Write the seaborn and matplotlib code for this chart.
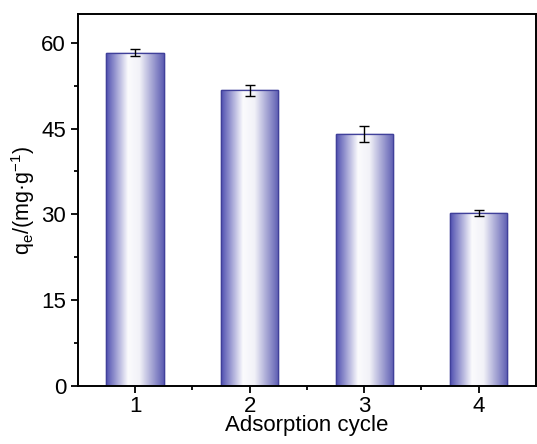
import numpy as np
import pandas as pd
import matplotlib
matplotlib.use("Agg")
import matplotlib.pyplot as plt
import seaborn as sns
from matplotlib.colors import LinearSegmentedColormap
from matplotlib.ticker import MultipleLocator

# --- data ---
cycles = ["1", "2", "3", "4"]
qe_values = [58.3, 51.7, 44.0, 30.2]
qe_errors = [0.6, 1.0, 1.4, 0.5]

sns.set_style("ticks")
plt.rcParams['font.family'] = ['Liberation Sans', 'DejaVu Sans']
plt.rcParams['mathtext.fontset'] = 'custom'
plt.rcParams['mathtext.rm'] = 'Liberation Sans'
plt.rcParams['text.color'] = 'black'
plt.rcParams['axes.labelcolor'] = 'black'
plt.rcParams['xtick.color'] = 'black'
plt.rcParams['ytick.color'] = 'black'

df = pd.DataFrame({"cycle": cycles, "qe": qe_values})

fig = plt.figure(figsize=(5.37, 4.44), dpi=100)
ax = fig.add_axes([0.145, 0.131, 0.853, 0.837])

sns.barplot(data=df, x="cycle", y="qe", width=0.5, color="white",
            edgecolor="#3a3a9a", linewidth=1.0, ax=ax, errorbar=None)

# horizontal gradient fill: dark at the edges, white just left of centre
grad_cmap = LinearSegmentedColormap.from_list(
    "bar_grad", [(0.0, "#4f4fb0"), (0.38, "#fbfbfd"), (0.58, "#f2f2f8"), (1.0, "#5c5cb2")])
grad = np.linspace(0, 1, 256).reshape(1, -1)
for patch in ax.patches:
    x0, y0 = patch.get_x(), patch.get_y()
    w, h = patch.get_width(), patch.get_height()
    im = ax.imshow(grad, cmap=grad_cmap, aspect="auto",
                   extent=[x0, x0 + w, y0, y0 + h], zorder=patch.get_zorder() + 0.1)
    im.set_clip_path(patch)
    # redraw outline on top
    ax.add_patch(plt.Rectangle((x0, y0), w, h, fill=False, edgecolor="#40409a",
                               linewidth=0.9, zorder=patch.get_zorder() + 0.2))

ax.errorbar(x=np.arange(len(cycles)), y=qe_values, yerr=qe_errors, fmt="none",
            ecolor="black", elinewidth=1.0, capsize=3.5, capthick=1.0, zorder=5)

ax.set_xlim(-0.5, 3.5)
ax.set_ylim(0, 65)
ax.yaxis.set_major_locator(MultipleLocator(15))
ax.yaxis.set_minor_locator(MultipleLocator(7.5))
ax.set_xticks(np.arange(len(cycles)))
ax.set_xticks(np.arange(len(cycles) - 1) + 0.5, minor=True)
ax.tick_params(axis="both", which="major", direction="out", length=5, width=1.3,
               labelsize=16, color="black", labelcolor="black")
ax.tick_params(axis="both", which="minor", direction="out", length=3, width=1.3)
ax.tick_params(axis="x", pad=2)

for side in ["left", "bottom", "right", "top"]:
    ax.spines[side].set_visible(True)
    ax.spines[side].set_linewidth(1.4)
    ax.spines[side].set_color("black")

ax.set_xlabel("Adsorption cycle", fontsize=16, labelpad=-1)
ax.set_ylabel(r"q$_\mathregular{e}$/(mg·g$^\mathregular{-1}$)", fontsize=15.5, labelpad=3)

fig.savefig("out.png", dpi=100)
